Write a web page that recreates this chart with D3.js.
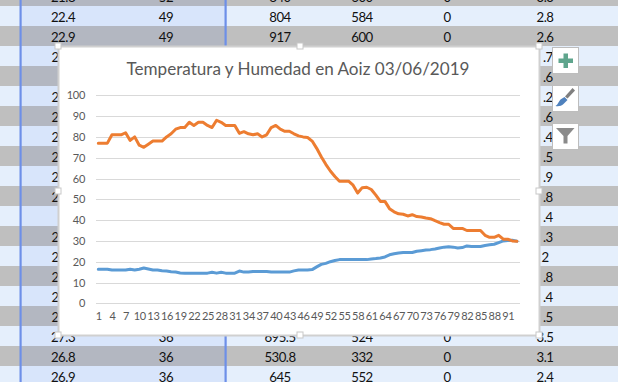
<!DOCTYPE html>
<html>
<head>
<meta charset="utf-8">
<script src="https://cdn.jsdelivr.net/npm/d3@7"></script>
<style>
html, body { margin: 0; padding: 0; background: #fff; }
svg { display: block; }
text { font-family: Lato, "Open Sans", sans-serif; }
</style>
</head>
<body>
<svg id="chart" width="618" height="382"></svg>
<script>
const titleText = 'Temperatura y Humedad en Aoiz 03/06/2019';
const yTicks = [0, 10, 20, 30, 40, 50, 60, 70, 80, 90, 100];

const humedad = [77, 77, 77, 81, 81, 81, 82, 78.3, 80, 76, 75, 76.5, 78, 78, 78, 80, 81.5, 83.7, 84.5, 84.5,
    87, 85.5, 87, 87, 85.5, 84.5, 88, 87, 85.5, 85.5, 85.5, 81.7, 82.5, 81.5, 81, 81.5, 80, 81, 84.5, 85.5,
    83.7, 82.7, 82.7, 81.5, 80.5, 80, 79.7, 78, 74.5, 70.5, 66.8, 63.6, 61, 58.7, 58.7, 58.7, 56.8, 53, 55.6, 55.8,
    54.7, 52, 49, 49, 45.5, 44, 43, 42.8, 42, 42.6, 41.7, 41.5, 41, 40.7, 39.7, 38.8, 38, 38, 36, 36,
    36, 35, 35, 35, 35, 32.7, 31.7, 31.7, 32.7, 30.8, 30.8, 30, 29.8];

const temperatura = [16.4, 16.4, 16.4, 16, 16, 16, 16, 16.4, 16, 16.4, 17, 16.5, 16, 16, 15.7, 15.5, 15.2, 15, 14.6, 14.5,
    14.5, 14.5, 14.5, 14.5, 14.5, 14.9, 14.5, 14.9, 14.5, 14.5, 14.5, 15.5, 15, 15, 15.3, 15.3, 15.3, 15.3, 15, 15,
    15, 15, 15, 15.6, 16, 16, 16, 16.2, 17.5, 18.7, 19.2, 20, 20.6, 21, 21, 21, 21, 21, 21, 21,
    21.3, 21.5, 21.8, 22.3, 23.3, 23.8, 24.2, 24.4, 24.4, 24.4, 25, 25.3, 25.6, 25.8, 26.1, 26.6, 27, 27.2, 27, 26.6,
    26.8, 27.6, 27.3, 27.3, 27.3, 27.8, 28.1, 28.4, 29.2, 30, 30.2, 30.3, 29.9];

// filas de la hoja que se ven detras del grafico
const filaTop = [['21.8', '52', '840', '600', '0', '3.3'], ['22.4', '49', '804', '584', '0', '2.8'], ['22.9', '49', '917', '600', '0', '2.6']];
const filaBottom = [['27.3', '36', '695.5', '524', '0', '3.5'], ['26.8', '36', '530.8', '332', '0', '3.1'], ['26.9', '36', '645', '552', '0', '2.4']];
const trozosIzq = ['2', '', '2', '2', '2', '2', '2', '2', '', '2', '2', '2', '2', '2'];
const trozosDer = ['.7', '.6', '.2', '.6', '.4', '.5', '.9', '.8', '.4', '.3', '2', '.8', '.4', '.5'];

const svg = d3.select('#chart');
const W = 618, H = 382;

// ---- hoja de calculo
const ROW_H = 20, ROW_START = -14;
const colX = [63, 166, 280, 362, 447, 545];
const CELL_FONT = 13.2;
const CELL_SPACING = '-0.5px';
const rows = d3.range(0, 20);

const bg = svg.append('g');
bg.selectAll('rect.fila')
    .data(rows)
    .enter().append('rect')
    .attr('class', 'fila')
    .attr('x', 0)
    .attr('y', d => ROW_START + d * ROW_H)
    .attr('width', W)
    .attr('height', ROW_H)
    .attr('fill', d => d % 2 == 0 ? '#bfbfbf' : '#e5effc');
bg.selectAll('rect.sel')
    .data(rows)
    .enter().append('rect')
    .attr('class', 'sel')
    .attr('x', 22)
    .attr('y', d => ROW_START + d * ROW_H)
    .attr('width', 203)
    .attr('height', ROW_H)
    .attr('fill', d => d % 2 == 0 ? '#b3b7c1' : '#d8e5fb');
bg.selectAll('rect.linea')
    .data([19.5, 224.5])
    .enter().append('rect')
    .attr('class', 'linea')
    .attr('x', d => d)
    .attr('y', 0)
    .attr('width', 2.2)
    .attr('height', H)
    .attr('fill', '#6d8fe8');

function drawRow(cells, cy) {
    bg.selectAll(null)
        .data(cells)
        .enter().append('text')
        .attr('x', (d, i) => colX[i])
        .attr('y', cy + 6)
        .attr('text-anchor', 'middle')
        .attr('font-size', CELL_FONT)
        .attr('letter-spacing', CELL_SPACING)
        .attr('fill', '#111')
        .text(d => d);
}
filaTop.forEach((r, i) => drawRow(r, -4 + i * ROW_H));
filaBottom.forEach((r, i) => drawRow(r, 336 + i * ROW_H));

bg.selectAll('text.izq')
    .data(trozosIzq)
    .enter().append('text')
    .attr('class', 'izq')
    .attr('x', 51.5)
    .attr('y', (d, i) => 62 + i * ROW_H)
    .attr('font-size', CELL_FONT)
    .attr('fill', '#111')
    .text(d => d);
bg.selectAll('text.der')
    .data(trozosDer)
    .enter().append('text')
    .attr('class', 'der')
    .attr('x', d => d.length == 1 ? 541.5 : 543)
    .attr('y', (d, i) => 62 + i * ROW_H)
    .attr('font-size', CELL_FONT)
    .attr('letter-spacing', CELL_SPACING)
    .attr('fill', '#111')
    .text(d => d);

// ---- grafico
const box = { x: 58.5, y: 46.5, w: 481, h: 289 };
svg.append('rect')
    .attr('x', box.x)
    .attr('y', box.y)
    .attr('width', box.w)
    .attr('height', box.h)
    .attr('fill', '#fff')
    .attr('stroke', '#d0d0d0')
    .attr('stroke-width', 2);

const cats = d3.range(1, humedad.length + 1);
const xScale = d3.scalePoint().domain(cats).range([98.3, 98.3 + 4.55 * 92]);
const yScale = d3.scaleLinear().domain([0, 100]).range([303.3, 95.3]);

svg.append('text')
    .attr('x', 298)
    .attr('y', 75)
    .attr('text-anchor', 'middle')
    .attr('font-size', 17.1)
    .attr('fill', '#595959')
    .text(titleText);

const grid = svg.append('g');
grid.selectAll('line')
    .data(yTicks)
    .enter().append('line')
    .attr('x1', 96)
    .attr('x2', 520)
    .attr('y1', d => Math.round(yScale(d)) + 0.5)
    .attr('y2', d => Math.round(yScale(d)) + 0.5)
    .attr('stroke', '#d9d9d9');

const yAxis = svg.append('g')
    .attr('transform', 'translate(96, 0)')
    .call(d3.axisLeft(yScale).tickValues(yTicks).tickSize(0).tickPadding(11));
yAxis.select('.domain').remove();
yAxis.selectAll('text')
    .attr('font-family', 'Lato')
    .attr('font-size', 11)
    .attr('letter-spacing', '-0.3px')
    .attr('fill', '#595959');

const xAxis = svg.append('g')
    .attr('transform', 'translate(0, 303.3)')
    .call(d3.axisBottom(xScale).tickValues(cats.filter(d => (d - 1) % 3 == 0)).tickSize(0).tickPadding(9));
xAxis.select('.domain').remove();
xAxis.selectAll('text')
    .attr('font-family', 'Lato')
    .attr('font-size', 11)
    .attr('letter-spacing', '-0.3px')
    .attr('fill', '#595959');

const lineGen = d3.line()
    .x((d, i) => xScale(cats[i]))
    .y(d => yScale(d));

svg.append('path')
    .datum(temperatura)
    .attr('d', lineGen)
    .attr('fill', 'none')
    .attr('stroke', '#5b9bd5')
    .attr('stroke-width', 3)
    .attr('stroke-linecap', 'round')
    .attr('stroke-linejoin', 'round');
svg.append('path')
    .datum(humedad)
    .attr('d', lineGen)
    .attr('fill', 'none')
    .attr('stroke', '#ed7d31')
    .attr('stroke-width', 3)
    .attr('stroke-linecap', 'round')
    .attr('stroke-linejoin', 'round');

// ---- asas de seleccion
const handles = [[58, 46], [300, 46], [539, 46], [58, 191], [539, 191], [58, 335], [300, 335], [539, 335]];
svg.selectAll('rect.asa')
    .data(handles)
    .enter().append('rect')
    .attr('class', 'asa')
    .attr('x', d => d[0] - 3)
    .attr('y', d => d[1] - 3)
    .attr('width', 6)
    .attr('height', 6)
    .attr('fill', '#fff')
    .attr('stroke', '#c8c8c8');

// ---- botones
const botones = [47, 85, 123];
const btn = svg.selectAll('g.btn')
    .data(botones)
    .enter().append('g')
    .attr('class', 'btn')
    .attr('transform', d => `translate(552.5, ${d + 0.5})`);
btn.append('rect')
    .attr('width', 26)
    .attr('height', 26)
    .attr('fill', '#fff')
    .attr('stroke', '#bdbdbd');

d3.select(btn.nodes()[0]).append('path')
    .attr('d', 'M11 6h4.5v5h5v4.5h-5v5h-4.5v-5h-5v-4.5h5z')
    .attr('fill', '#5fa58d');
d3.select(btn.nodes()[1]).append('path')
    .attr('d', 'M20 2.5L22.5 5L15 13L12.5 11z')
    .attr('fill', '#7f7f7f');
d3.select(btn.nodes()[1]).append('path')
    .attr('d', 'M12 11.5L15 14.5L11 18.5C9 20.5 6 21 3 20.5C5.5 19 6 16 8 14z')
    .attr('fill', '#4f81bd');
d3.select(btn.nodes()[2]).append('path')
    .attr('d', 'M3.5 4.5h18.5l-7 8v7.5h-4v-7.5z')
    .attr('fill', '#8a8a8a');
</script>
</body>
</html>
